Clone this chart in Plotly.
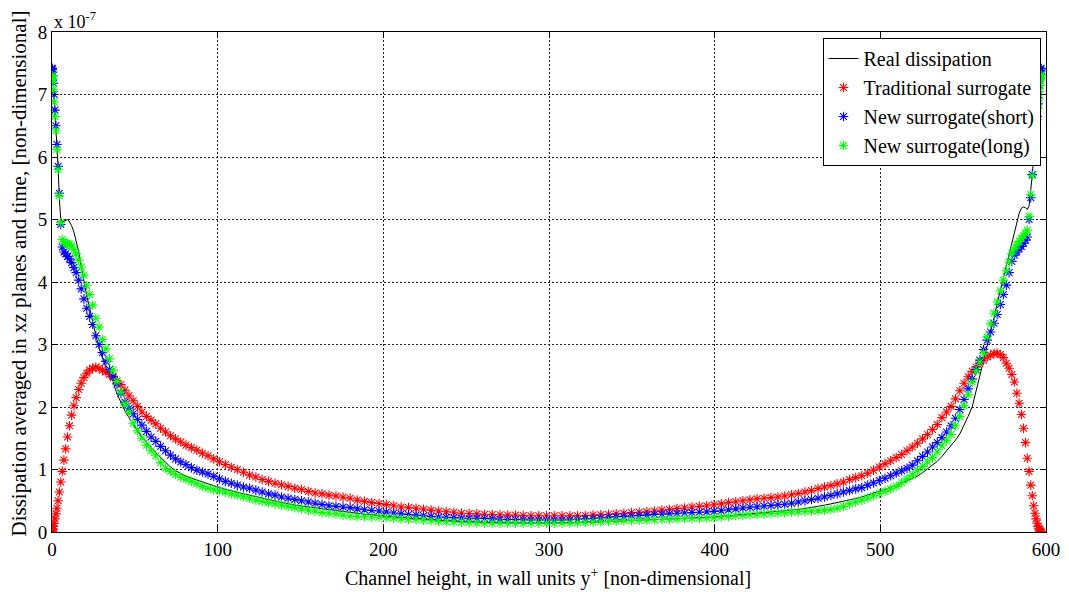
import plotly.graph_objects as go

# wall-normal grid positions (y+), left half and right half
x_left = [0, 0.04, 0.15, 0.33, 0.59, 0.92, 1.32, 1.80, 2.35, 2.98, 3.67, 4.44, 5.29, 6.20, 7.19, 8.25, 9.38,
          10.58, 11.85, 13.20, 14.61, 16.09, 17.65, 19.27, 20.96, 22.72, 24.55, 26.45, 28.41, 30.44, 32.53,
          34.69, 36.92, 39.21, 41.57, 43.99, 46.47, 49.01, 51.62, 54.29, 57.01, 59.80, 62.64, 65.54, 68.50,
          71.52, 74.59, 77.72, 80.90, 84.14, 87.43, 90.77, 94.16, 97.61, 101.10, 104.64, 108.23, 111.87,
          115.55, 119.27, 123.04, 126.86, 130.72, 134.61, 138.55, 142.53, 146.55, 150.60, 154.70, 158.82,
          162.98, 167.18, 171.41, 175.67, 179.96, 184.27, 188.61, 192.99, 197.39, 201.81, 206.25, 210.73,
          215.22, 219.74, 224.26, 228.82, 233.39, 237.96, 242.57, 247.18, 251.81, 256.44, 261.09, 265.75,
          270.41, 275.08, 279.76, 284.44, 289.13, 293.81, 298.5]
x_right = [303.19, 307.87, 312.56, 317.24, 321.92, 326.59, 331.25, 335.91, 340.56, 345.19,
           349.82, 354.43, 359.04, 363.61, 368.18, 372.73, 377.26, 381.77, 386.26, 390.75,
           395.19, 399.61, 404.01, 408.39, 412.73, 417.04, 421.33, 425.59, 429.82, 434.02,
           438.18, 442.30, 446.40, 450.45, 454.48, 458.45, 462.39, 466.28, 470.14, 473.96,
           477.73, 481.45, 485.13, 488.77, 492.36, 495.90, 499.39, 502.84, 506.23, 509.57,
           512.86, 516.10, 519.28, 522.41, 525.48, 528.50, 531.46, 534.36, 537.20, 539.99,
           542.71, 545.38, 547.99, 550.53, 553.01, 555.43, 557.78, 560.08, 562.31, 564.47,
           566.56, 568.59, 570.55, 572.45, 574.28, 576.04, 577.73, 579.35, 580.91, 582.39,
           583.80, 585.15, 586.42, 587.62, 588.75, 589.80, 590.80, 591.71, 592.56, 593.33,
           594.02, 594.65, 595.20, 595.67, 596.08, 596.41, 596.67, 596.85, 596.96, 597.0]

# values in units of 1e-7
real_left = [7.44, 7.43, 7.40, 7.36, 7.28, 7.12, 6.92, 6.72, 6.55, 6.25, 5.85, 5.33, 5.0, 4.96, 4.97, 4.99,
             5.0, 4.96, 4.90, 4.80, 4.67, 4.49, 4.24, 3.98, 3.78, 3.58, 3.35, 3.15, 2.94, 2.78, 2.63, 2.53,
             2.40, 2.21, 2.07, 1.94, 1.83, 1.72, 1.62, 1.52, 1.43, 1.35, 1.27, 1.19, 1.11, 1.04, 0.98, 0.93,
             0.89, 0.86, 0.83, 0.80, 0.77, 0.74, 0.71, 0.68, 0.66, 0.63, 0.61, 0.59, 0.57, 0.54, 0.52, 0.495,
             0.47, 0.45, 0.43, 0.415, 0.40, 0.385, 0.37, 0.355, 0.34, 0.325, 0.31, 0.30, 0.285, 0.275, 0.26,
             0.25, 0.24, 0.23, 0.22, 0.21, 0.20, 0.19, 0.18, 0.175, 0.17, 0.165, 0.16, 0.155, 0.15, 0.15,
             0.145, 0.145, 0.14, 0.14, 0.14, 0.14, 0.14]
real_right = [0.14, 0.14, 0.145, 0.15, 0.15, 0.155, 0.16, 0.165, 0.17, 0.175,
              0.18, 0.19, 0.195, 0.20, 0.205, 0.21, 0.215, 0.22, 0.225, 0.23,
              0.235, 0.24, 0.25, 0.26, 0.265, 0.275, 0.285, 0.295, 0.305, 0.315,
              0.325, 0.335, 0.345, 0.36, 0.375, 0.39, 0.41, 0.43, 0.45, 0.47,
              0.49, 0.51, 0.535, 0.56, 0.59, 0.62, 0.65, 0.68, 0.71, 0.745,
              0.78, 0.82, 0.855, 0.895, 0.95, 1.01, 1.07, 1.13, 1.21, 1.30,
              1.38, 1.47, 1.57, 1.70, 1.85, 2.0, 2.25, 2.50, 2.73, 2.95,
              3.17, 3.42, 3.66, 3.87, 4.06, 4.28, 4.47, 4.62, 4.78, 4.98,
              5.10, 5.18, 5.2, 5.19, 5.16, 5.22, 5.45, 5.72, 5.98, 6.22,
              6.45, 6.65, 6.85, 7.0, 7.12, 7.24, 7.32, 7.38, 7.42, 7.44]

trad_left = [0.0, 0.0, 0.01, 0.03, 0.05, 0.09, 0.14, 0.21, 0.29, 0.38, 0.50, 0.64, 0.80, 0.97, 1.15, 1.33,
             1.52, 1.70, 1.87, 2.02, 2.15, 2.28, 2.38, 2.47, 2.54, 2.59, 2.62, 2.635, 2.62, 2.59, 2.56, 2.52,
             2.47, 2.42, 2.36, 2.27, 2.18, 2.10, 2.01, 1.92, 1.85, 1.79, 1.73, 1.66, 1.60, 1.54, 1.49, 1.44,
             1.39, 1.35, 1.31, 1.26, 1.22, 1.17, 1.125, 1.08, 1.035, 1.0, 0.955, 0.91, 0.88, 0.84, 0.81, 0.78,
             0.755, 0.73, 0.70, 0.68, 0.65, 0.625, 0.61, 0.59, 0.575, 0.555, 0.54, 0.51, 0.49, 0.47, 0.455,
             0.44, 0.42, 0.40, 0.39, 0.38, 0.365, 0.35, 0.335, 0.325, 0.315, 0.30, 0.295, 0.29, 0.285, 0.28,
             0.275, 0.27, 0.27, 0.265, 0.26, 0.26, 0.26]
trad_right = [0.26, 0.26, 0.26, 0.26, 0.265, 0.27, 0.275, 0.285, 0.29, 0.30,
              0.31, 0.315, 0.325, 0.335, 0.35, 0.36, 0.375, 0.385, 0.40, 0.41,
              0.42, 0.435, 0.45, 0.47, 0.485, 0.50, 0.515, 0.53, 0.54, 0.55,
              0.56, 0.575, 0.595, 0.615, 0.64, 0.665, 0.695, 0.72, 0.745, 0.77,
              0.80, 0.84, 0.87, 0.90, 0.94, 0.99, 1.04, 1.09, 1.14, 1.19,
              1.24, 1.30, 1.36, 1.42, 1.49, 1.56, 1.64, 1.72, 1.83, 1.92,
              2.01, 2.13, 2.26, 2.38, 2.485, 2.57, 2.64, 2.70, 2.75, 2.80,
              2.83, 2.855, 2.86, 2.84, 2.79, 2.70, 2.62, 2.52, 2.40, 2.22,
              2.06, 1.88, 1.66, 1.43, 1.18, 0.97, 0.75, 0.58, 0.42, 0.30,
              0.21, 0.14, 0.09, 0.06, 0.035, 0.02, 0.01, 0.005, 0.0, 0.0]

short_left = [7.42, 7.42, 7.40, 7.36, 7.30, 7.18, 7.0, 6.75, 6.5, 6.2, 5.85, 5.42, 4.92, 4.56, 4.48, 4.45,
              4.41, 4.37, 4.31, 4.23, 4.15, 4.03, 3.89, 3.73, 3.58, 3.45, 3.32, 3.14, 3.0, 2.87, 2.73, 2.6,
              2.49, 2.37, 2.22, 2.08, 1.98, 1.89, 1.80, 1.71, 1.61, 1.52, 1.45, 1.37, 1.30, 1.23, 1.17, 1.12,
              1.08, 1.03, 0.99, 0.96, 0.93, 0.89, 0.85, 0.81, 0.78, 0.75, 0.72, 0.70, 0.67, 0.64, 0.61, 0.59,
              0.56, 0.54, 0.52, 0.50, 0.48, 0.46, 0.44, 0.42, 0.41, 0.40, 0.39, 0.37, 0.355, 0.345, 0.335,
              0.32, 0.305, 0.29, 0.28, 0.27, 0.26, 0.25, 0.24, 0.235, 0.23, 0.225, 0.22, 0.22, 0.215, 0.21,
              0.205, 0.20, 0.20, 0.195, 0.19, 0.19, 0.19]
short_right = [0.19, 0.19, 0.195, 0.20, 0.21, 0.215, 0.225, 0.235, 0.245, 0.25,
               0.255, 0.265, 0.27, 0.28, 0.285, 0.29, 0.30, 0.305, 0.31, 0.315,
               0.32, 0.33, 0.34, 0.355, 0.37, 0.385, 0.395, 0.405, 0.415, 0.425,
               0.435, 0.445, 0.46, 0.48, 0.50, 0.52, 0.54, 0.56, 0.585, 0.61,
               0.64, 0.665, 0.69, 0.71, 0.75, 0.785, 0.825, 0.86, 0.90, 0.94,
               0.98, 1.02, 1.07, 1.14, 1.21, 1.28, 1.36, 1.43, 1.51, 1.60,
               1.70, 1.82, 1.96, 2.12, 2.29, 2.45, 2.60, 2.75, 2.92, 3.07,
               3.20, 3.34, 3.48, 3.64, 3.80, 3.95, 4.15, 4.33, 4.43, 4.48,
               4.53, 4.57, 4.62, 4.67, 4.72, 5.0, 5.35, 5.72, 5.98, 6.22,
               6.45, 6.65, 6.85, 7.0, 7.14, 7.25, 7.33, 7.38, 7.41, 7.42]

long_left = [7.30, 7.30, 7.28, 7.25, 7.2, 7.08, 6.88, 6.65, 6.42, 6.12, 5.8, 5.38, 4.95, 4.68, 4.64, 4.62,
             4.61, 4.60, 4.58, 4.52, 4.45, 4.35, 4.24, 4.11, 3.94, 3.80, 3.63, 3.42, 3.28, 3.08, 2.93, 2.77,
             2.59, 2.41, 2.24, 2.05, 1.92, 1.74, 1.62, 1.50, 1.39, 1.30, 1.22, 1.11, 1.02, 0.97, 0.92, 0.875,
             0.845, 0.81, 0.77, 0.73, 0.70, 0.675, 0.66, 0.635, 0.61, 0.59, 0.565, 0.54, 0.51, 0.49, 0.47,
             0.45, 0.43, 0.41, 0.39, 0.37, 0.35, 0.335, 0.31, 0.30, 0.29, 0.27, 0.255, 0.25, 0.245, 0.24,
             0.235, 0.23, 0.22, 0.21, 0.205, 0.20, 0.19, 0.18, 0.17, 0.165, 0.16, 0.155, 0.15, 0.145, 0.14,
             0.14, 0.14, 0.14, 0.14, 0.14, 0.14, 0.14, 0.14]
long_right = [0.14, 0.14, 0.145, 0.15, 0.155, 0.16, 0.165, 0.17, 0.175, 0.18,
              0.185, 0.19, 0.19, 0.195, 0.20, 0.205, 0.21, 0.215, 0.215, 0.22,
              0.225, 0.23, 0.24, 0.25, 0.26, 0.265, 0.275, 0.28, 0.29, 0.295,
              0.30, 0.31, 0.32, 0.325, 0.33, 0.335, 0.34, 0.35, 0.36, 0.38,
              0.41, 0.45, 0.48, 0.51, 0.545, 0.58, 0.615, 0.65, 0.69, 0.73,
              0.79, 0.85, 0.91, 0.98, 1.05, 1.12, 1.19, 1.28, 1.38, 1.46,
              1.56, 1.70, 1.85, 2.02, 2.20, 2.40, 2.58, 2.72, 2.86, 3.12,
              3.33, 3.50, 3.68, 3.86, 4.03, 4.18, 4.32, 4.45, 4.53, 4.59,
              4.65, 4.70, 4.74, 4.78, 4.83, 5.05, 5.40, 5.70, 5.95, 6.18,
              6.40, 6.6, 6.78, 6.93, 7.05, 7.15, 7.22, 7.27, 7.30, 7.31]

x_tick_values = [0, 100, 200, 300, 400, 500, 600]
y_tick_values = [0, 1, 2, 3, 4, 5, 6, 7, 8]
x_title = "Channel height, in wall units y<sup>+</sup> [non-dimensional]"
y_title = "Dissipation averaged in xz planes and time, [non-dimensional]"

x_all = x_left + x_right
series = {
    "Real dissipation": real_left + real_right,
    "Traditional surrogate": trad_left + trad_right,
    "New surrogate(short)": short_left + short_right,
    "New surrogate(long)": long_left + long_right,
}
for k, v in series.items():
    assert len(v) == len(x_all), (k, len(v), len(x_all))

FONT = "'Liberation Serif', 'Times New Roman', Times, serif"
fig = go.Figure()
fig.add_trace(go.Scatter(x=x_all, y=series["Real dissipation"], mode="lines",
                         name="Real dissipation", line=dict(color="black", width=1)))
marker_colors = {"Traditional surrogate": "#ff0000",
                 "New surrogate(short)": "#0000ff",
                 "New surrogate(long)": "#00ff00"}
for name, col in marker_colors.items():
    fig.add_trace(go.Scatter(x=x_all, y=series[name], mode="markers", name=name,
                             marker=dict(symbol="asterisk-open", size=8, color=col,
                                         line=dict(color=col, width=1.1))))

axis_common = dict(showgrid=True, gridcolor="#222222", griddash="2px,2px", gridwidth=1,
                   zeroline=False, showline=True, linecolor="black", linewidth=1,
                   mirror="allticks", ticks="inside", ticklen=6, tickcolor="black",
                   automargin=False,
                   tickfont=dict(family=FONT, size=19, color="black"))
fig.update_xaxes(range=[0, 600], tickvals=x_tick_values, **axis_common)
fig.update_yaxes(range=[0, 8], tickvals=y_tick_values, **axis_common)

fig.add_annotation(text="x 10<sup>-7</sup>", xref="paper", yref="paper", x=0, y=1,
                   xanchor="left", yanchor="bottom", showarrow=False, yshift=-2,
                   font=dict(family=FONT, size=18, color="black"))
fig.add_annotation(text=x_title, xref="paper", yref="paper", x=0.499, y=-0.09,
                   xanchor="center", yanchor="middle", showarrow=False,
                   font=dict(family=FONT, size=20, color="black"))
fig.add_annotation(text=y_title, xref="paper", yref="paper", x=-0.0337, y=0.516,
                   xanchor="center", yanchor="middle", showarrow=False, textangle=-90,
                   font=dict(family=FONT, size=21, color="black"))

# the page body adds an 8px offset, so the figure is shrunk and shifted accordingly
fig.update_layout(
    width=1061, height=584,
    margin=dict(l=43.5, r=22.5, t=24, b=60),
    paper_bgcolor="white", plot_bgcolor="white",
    font=dict(family=FONT, size=19, color="black"),
    legend=dict(x=0.9945, y=0.988, xanchor="right", yanchor="top",
                bgcolor="white", bordercolor="black", borderwidth=1,
                font=dict(family=FONT, size=20, color="black"),
                itemwidth=30, tracegroupgap=0),
    showlegend=True,
)
fig.write_html("out.html")
